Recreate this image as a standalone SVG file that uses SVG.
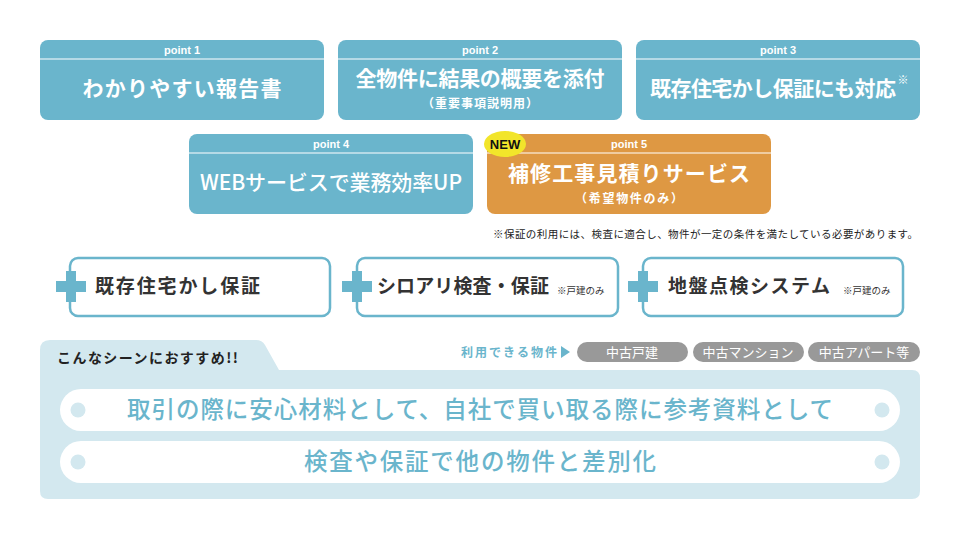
<svg xmlns="http://www.w3.org/2000/svg" width="960" height="540" viewBox="0 0 960 540">
<style>
.pbox{fill:#6AB5CC}
.obox{fill:#DE9843}
.hl{stroke:#fff;stroke-width:1.2}
.ptag{font-family:"Liberation Sans",Arial,sans-serif;font-weight:bold;font-size:11px;fill:#fff;text-anchor:middle}
.ptitle{font-family:"Noto Sans CJK JP","Noto Sans",sans-serif;font-weight:bold;font-size:21px;fill:#fff;text-anchor:middle}
.psub{font-family:"Noto Sans CJK JP","Noto Sans",sans-serif;font-weight:bold;font-size:12px;fill:#fff;text-anchor:middle}
.note{font-family:"Noto Sans CJK JP",sans-serif;font-size:10.5px;fill:#222}
.sbox{fill:#fff;stroke:#6AB5CC;stroke-width:2.5}
.plus{fill:#6AB5CC}
.stitle{font-family:"Noto Sans CJK JP",sans-serif;font-weight:bold;font-size:19px;fill:#333}
.ssmall{font-family:"Noto Sans CJK JP",sans-serif;font-size:9.5px;fill:#333}
.pill{fill:#999}
.pilltx{font-family:"Noto Sans CJK JP",sans-serif;font-size:13px;fill:#fff;text-anchor:middle}
.bar{fill:#fff}
.dot{fill:#D3E8EF}
.bartx{font-family:"Noto Sans CJK JP",sans-serif;font-weight:500;font-size:23.5px;fill:#6AB5CC;text-anchor:middle}
</style>
<rect width="960" height="540" fill="#fff"/>

<g id="point1">
<rect class="pbox" x="40" y="40" width="284" height="80" rx="8"/>
<line class="hl" x1="40" y1="59" x2="324" y2="59"/>
<text class="ptag" x="182" y="54">point 1</text>
<text class="ptitle" x="182" y="96" textLength="199" lengthAdjust="spacing">わかりやすい報告書</text>
</g>
<g id="point2">
<rect class="pbox" x="338" y="40" width="284" height="80" rx="8"/>
<line class="hl" x1="338" y1="59" x2="622" y2="59"/>
<text class="ptag" x="480" y="54">point 2</text>
<text class="ptitle" x="480" y="86" textLength="249" lengthAdjust="spacing">全物件に結果の概要を添付</text>
<text class="psub" x="480" y="108" textLength="116" lengthAdjust="spacing">（重要事項説明用）</text>
</g>
<g id="point3">
<rect class="pbox" x="636" y="40" width="284" height="80" rx="8"/>
<line class="hl" x1="636" y1="59" x2="920" y2="59"/>
<text class="ptag" x="778" y="54">point 3</text>
<text class="ptitle" x="773" y="96" textLength="246" lengthAdjust="spacing">既存住宅かし保証にも対応</text>
<text x="903" y="84" font-family="Noto Sans CJK JP,sans-serif" font-weight="bold" font-size="11" fill="#fff" text-anchor="middle">※</text>
</g>
<g id="point4">
<rect class="pbox" x="189" y="134" width="284" height="80" rx="8"/>
<line class="hl" x1="189" y1="153" x2="473" y2="153"/>
<text class="ptag" x="331" y="148">point 4</text>
<text class="ptitle" x="331" y="190" textLength="262" lengthAdjust="spacing" style="font-weight:500">WEBサービスで業務効率UP</text>
</g>
<g id="point5">
<rect class="obox" x="487" y="134" width="284" height="80" rx="8"/>
<line class="hl" x1="487" y1="153" x2="771" y2="153"/>
<text class="ptag" x="629" y="148">point 5</text>
<ellipse cx="505" cy="144" rx="21" ry="13" fill="#F2E52A"/>
<text x="505" y="149" font-family="Liberation Sans,Arial,sans-serif" font-weight="bold" font-size="13" fill="#111" text-anchor="middle">NEW</text>
<text class="ptitle" x="629" y="181" textLength="242" lengthAdjust="spacing">補修工事見積りサービス</text>
<text class="psub" x="629" y="203" textLength="108" lengthAdjust="spacing">（希望物件のみ）</text>
</g>

<text class="note" x="493" y="238" textLength="425" lengthAdjust="spacing">※保証の利用には、検査に適合し、物件が一定の条件を満たしている必要があります。</text>

<g id="service1">
<rect class="sbox" x="70" y="258" width="260" height="58" rx="8"/>
<rect class="plus" x="56" y="281" width="30" height="11"/>
<rect class="plus" x="66" y="271" width="10" height="31"/>
<text class="stitle" x="95" y="293" textLength="165" lengthAdjust="spacing">既存住宅かし保証</text>
</g>
<g id="service2">
<rect class="sbox" x="357" y="258" width="261" height="58" rx="8"/>
<rect class="plus" x="342" y="281" width="30" height="11"/>
<rect class="plus" x="352" y="271" width="10" height="31"/>
<text class="stitle" x="377" y="293" textLength="172" lengthAdjust="spacing">シロアリ検査・保証</text>
<text class="ssmall" x="557" y="294">※戸建のみ</text>
</g>
<g id="service3">
<rect class="sbox" x="643" y="258" width="260" height="58" rx="8"/>
<rect class="plus" x="628" y="281" width="30" height="11"/>
<rect class="plus" x="638" y="271" width="10" height="31"/>
<text class="stitle" x="668" y="293" textLength="162" lengthAdjust="spacing">地盤点検システム</text>
<text class="ssmall" x="843" y="294">※戸建のみ</text>
</g>

<g id="scenes">
<path d="M40,350 Q40,340 50,340 L256,340 Q262,340 265,345 L279,370 L912,370 Q920,370 920,378 L920,491 Q920,499 912,499 L48,499 Q40,499 40,491 Z" fill="#D3E8EF"/>
<text x="57" y="363" font-family="Noto Sans CJK JP,sans-serif" font-weight="bold" font-size="14" fill="#222" textLength="181" lengthAdjust="spacing">こんなシーンにおすすめ!!</text>
<text x="461" y="357" font-family="Noto Sans CJK JP,sans-serif" font-weight="bold" font-size="12" fill="#6AB5CC" textLength="96" lengthAdjust="spacing">利用できる物件</text>
<path d="M561,346 L570,352 L561,358 Z" fill="#6AB5CC"/>
<rect class="pill" x="577" y="342" width="111" height="20" rx="10"/>
<text class="pilltx" x="632" y="357">中古戸建</text>
<rect class="pill" x="693" y="342" width="111" height="20" rx="10"/>
<text class="pilltx" x="748" y="357">中古マンション</text>
<rect class="pill" x="808" y="342" width="112" height="20" rx="10"/>
<text class="pilltx" x="864" y="357">中古アパート等</text>
<rect class="bar" x="60" y="389" width="840" height="42" rx="21"/>
<circle class="dot" cx="78" cy="410" r="7.5"/>
<circle class="dot" cx="882" cy="410" r="7.5"/>
<text class="bartx" x="480" y="418" textLength="706" lengthAdjust="spacing">取引の際に安心材料として、自社で買い取る際に参考資料として</text>
<rect class="bar" x="60" y="441" width="840" height="42" rx="21"/>
<circle class="dot" cx="78" cy="462" r="7.5"/>
<circle class="dot" cx="882" cy="462" r="7.5"/>
<text class="bartx" x="480" y="470" textLength="352" lengthAdjust="spacing">検査や保証で他の物件と差別化</text>
</g>
</svg>
